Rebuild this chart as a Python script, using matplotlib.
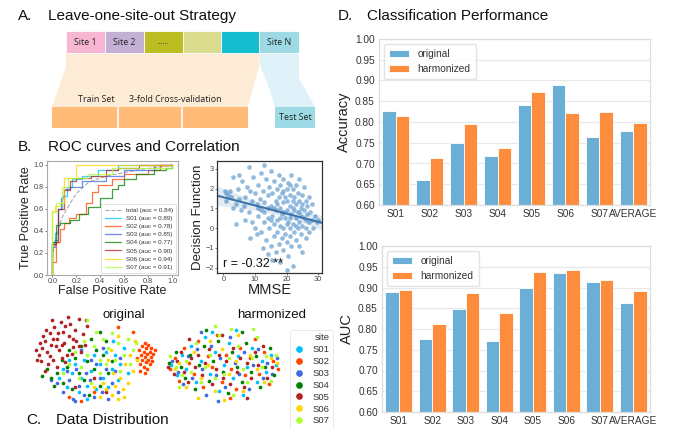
import numpy as np
import matplotlib
matplotlib.use("Agg")
import matplotlib.pyplot as plt
from matplotlib.patches import Rectangle, Polygon
from matplotlib.lines import Line2D

plt.rcParams['font.family'] = ['Liberation Sans', 'DejaVu Sans']

W, H = 683, 429

# ---------------- data ----------------
sites = ['S01', 'S02', 'S03', 'S04', 'S05', 'S06', 'S07']
site_colors = ['#00bfff', '#ff4500', '#4169e1', '#008000', '#b22222', '#ffd700', '#adff2f']

bar_categories = ['S01', 'S02', 'S03', 'S04', 'S05', 'S06', 'S07', 'AVERAGE']
acc_original = [0.827, 0.660, 0.749, 0.719, 0.840, 0.888, 0.764, 0.779]
acc_harmonized = [0.815, 0.714, 0.796, 0.737, 0.872, 0.821, 0.823, 0.797]
auc_original = [0.889, 0.777, 0.848, 0.770, 0.898, 0.936, 0.914, 0.862]
auc_harmonized = [0.894, 0.812, 0.887, 0.838, 0.938, 0.942, 0.917, 0.891]

roc_total_fpr = [0, 0.02, 0.05, 0.08, 0.12, 0.16, 0.2, 0.25, 0.3, 0.4, 0.5, 0.6, 0.75, 0.9, 1.0]
roc_total_tpr = [0.15, 0.3, 0.42, 0.52, 0.6, 0.67, 0.74, 0.79, 0.84, 0.88, 0.91, 0.93, 0.96, 0.98, 1.0]
roc_total_auc = 0.84

roc_fpr = {
    'S01': [0, 0, 0.02, 0.05, 0.08, 0.12, 0.16, 0.25, 0.38, 0.55, 1.0],
    'S02': [0, 0, 0.03, 0.06, 0.1, 0.14, 0.2, 0.28, 0.33, 0.38, 0.5, 0.6, 0.8, 0.9, 1.0],
    'S03': [0, 0, 0.02, 0.05, 0.07, 0.1, 0.15, 0.25, 0.45, 0.6, 0.85, 1.0],
    'S04': [0, 0, 0.03, 0.06, 0.15, 0.22, 0.3, 0.4, 0.5, 0.55, 0.6, 0.7, 0.85, 0.95, 1.0],
    'S05': [0, 0, 0.03, 0.05, 0.1, 0.15, 0.2, 0.32, 0.45, 0.55, 0.72, 1.0],
    'S06': [0, 0, 0.02, 0.06, 0.1, 0.2, 1.0],
    'S07': [0, 0, 0.03, 0.08, 0.13, 0.3, 0.5, 1.0],
}
roc_tpr = {
    'S01': [0, 0.3, 0.38, 0.6, 0.72, 0.8, 0.87, 0.9, 0.95, 1.0, 1.0],
    'S02': [0, 0.12, 0.3, 0.42, 0.47, 0.52, 0.55, 0.65, 0.75, 0.82, 0.87, 0.92, 0.95, 1.0, 1.0],
    'S03': [0, 0.25, 0.32, 0.6, 0.7, 0.78, 0.8, 0.85, 0.9, 0.95, 1.0, 1.0],
    'S04': [0, 0.3, 0.45, 0.47, 0.5, 0.55, 0.62, 0.7, 0.78, 0.82, 0.87, 0.92, 0.95, 0.97, 1.0],
    'S05': [0, 0.28, 0.3, 0.6, 0.77, 0.85, 0.88, 0.9, 0.95, 0.97, 1.0, 1.0],
    'S06': [0, 0.58, 0.63, 0.65, 0.88, 1.0, 1.0],
    'S07': [0, 0.57, 0.65, 0.8, 0.88, 0.92, 0.97, 1.0],
}
roc_auc = [0.89, 0.78, 0.85, 0.77, 0.90, 0.94, 0.91]

mmse_points = [
    (0.5, 1.9), (1, 1.8), (1.5, 1.7), (2, 1.9), (1, 1.4), (2.5, 1.6), (3, 2.6), (3, 1.0), (4, 1.2),
    (4.5, 2.0), (5, 2.7), (5, 1.5), (5.5, 0.9), (4, 0.2), (6, 2.4), (6.5, 1.1), (7, 1.6), (7, 0.4),
    (7.5, 2.1), (8, 3.1), (8, 0.8), (8.5, 1.9), (8.5, -0.5), (9, 1.4), (9, 0.3), (9.5, 2.6), (10, 1.8),
    (10, 0.0), (10.5, 1.2), (10.5, -0.3), (11, 2.2), (11, 0.6), (11.5, 1.5), (12, 2.8), (12, 0.9),
    (12, -0.2), (12.5, 1.9), (12.5, -1.0), (13, 3.2), (13, 0.3), (13, 1.3), (13.5, 2.5), (13.5, -0.6),
    (14, 1.7), (14, 0.5), (14, -1.3), (14.5, 2.1), (14.5, 0.0), (15, 1.1), (15, -0.9), (15, 2.9),
    (15.5, 0.6), (15.5, 1.8), (15.5, -1.6), (16, 2.4), (16, 0.2), (16, -0.4), (16.5, 1.4), (16.5, 0.9),
    (16.5, -1.2), (17, 2.0), (17, 0.4), (17, -0.2), (17.5, 1.6), (17.5, 2.7), (17.5, -0.8), (18, 1.0),
    (18, 0.1), (18, -1.7), (18, 2.2), (18.5, 0.7), (18.5, 1.8), (18.5, -0.5), (19, 1.3), (19, 2.5),
    (19, 0.0), (19, -1.1), (19.5, 0.5), (19.5, 1.6), (19.5, -0.3), (20, 2.0), (20, 0.9), (20, -0.7),
    (20, -2.1), (20, 1.4), (20.5, 0.3), (20.5, 2.3), (20.5, -1.4), (21, 1.1), (21, 0.0), (21, 1.7),
    (21, -0.4), (21.5, 0.7), (21.5, 2.7), (21.5, -0.9), (22, 1.4), (22, 0.2), (22, -1.9), (22, 2.0),
    (22.5, 0.9), (22.5, -0.2), (22.5, 1.6), (23, 0.5), (23, 1.2), (23, -0.6), (23, 2.2), (23.5, 0.0),
    (23.5, 0.8), (23.5, 1.8), (24, 1.4), (24, 0.3), (24, -0.9), (24, 2.5), (24.5, 0.6), (24.5, 1.0),
    (24.5, -0.3), (25, 1.7), (25, 0.1), (25, 1.2), (25, -1.2), (25.5, 0.5), (25.5, 2.1), (25.5, 0.9),
    (26, 0.0), (26, 1.4), (26, -0.5), (26.5, 0.7), (26.5, 1.1), (27, 0.3), (27, 1.6), (27, -0.2),
    (27.5, 0.8), (28, 0.4), (28, 1.2), (28.5, 0.0), (29, 0.6), (29.5, 0.3), (30, 0.4),
    (16, 1.0), (17, 1.2), (18, 0.5), (19, 0.8), (20, 0.2), (21, 0.5), (22, 1.0), (23, 0.1),
    (15, 0.4), (14, 1.0), (19, 1.9), (21, 2.2), (24, 0.8), (26, 0.4), (13, 0.8), (11, 1.0),
]
mmse_r_text = 'r = -0.32 **'

tsne_original = {
    'S05': [(5, 55), (8, 62), (10, 70), (12, 58), (14, 78), (15, 66), (17, 50), (18, 85), (20, 72), (22, 60),
            (23, 90), (25, 80), (26, 68), (28, 55), (30, 75), (31, 88), (33, 63), (35, 82), (36, 70), (38, 93),
            (40, 58), (41, 77), (13, 45), (7, 48), (20, 42), (27, 47), (45, 86), (43, 66), (10, 38), (50, 30),
            (35, 20), (60, 15), (3, 60), (16, 92), (29, 96), (24, 52), (9, 75), (33, 72), (19, 64), (44, 92),
            (6, 68), (11, 82), (21, 78), (27, 86), (32, 56), (38, 64), (14, 54), (24, 66), (4, 50), (17, 72)],
    'S04': [(12, 40), (15, 30), (20, 35), (25, 25), (28, 42), (32, 18), (35, 52), (38, 35), (40, 65), (42, 28),
            (45, 48), (48, 72), (50, 40), (52, 60), (55, 22), (58, 55), (60, 70), (62, 35), (18, 22), (30, 60),
            (46, 12), (65, 48), (8, 32), (24, 50), (55, 80)],
    'S01': [(22, 30), (25, 40), (28, 20), (32, 35), (35, 45), (38, 15), (40, 30), (42, 50), (45, 22), (48, 38),
            (50, 55), (52, 18), (55, 45), (58, 30), (60, 58), (62, 20), (65, 40), (68, 55), (70, 28), (72, 45),
            (75, 62), (30, 50), (45, 8), (78, 35), (66, 70)],
    'S03': [(20, 25), (25, 15), (30, 28), (33, 8), (36, 40), (38, 22), (42, 12), (44, 35), (47, 28), (50, 10),
            (52, 45), (55, 30), (57, 15), (60, 40), (62, 8), (65, 25), (68, 38), (70, 15), (28, 38), (48, 50),
            (58, 62), (35, 5), (72, 52), (40, 60), (15, 28)],
    'S07': [(30, 45), (35, 58), (40, 42), (42, 70), (45, 55), (48, 25), (50, 65), (52, 80), (55, 50), (58, 72),
            (60, 45), (62, 62), (65, 78), (68, 50), (70, 68), (72, 38), (75, 55), (78, 72), (80, 45), (82, 60),
            (25, 35), (38, 30), (55, 35), (85, 68), (45, 92)],
    'S06': [(55, 10), (58, 25), (60, 18), (62, 50), (65, 12), (68, 22), (70, 8), (72, 30), (74, 18), (76, 45),
            (78, 25), (80, 55), (82, 38), (84, 70), (66, 35), (70, 75), (50, 20), (75, 10), (64, 60), (86, 50)],
    'S02': [(86, 52), (87, 60), (88, 45), (89, 55), (90, 65), (90, 50), (91, 42), (91, 58), (92, 68), (92, 53),
            (93, 47), (93, 62), (94, 56), (94, 40), (95, 50), (95, 66), (96, 58), (96, 45), (97, 53), (97, 62),
            (98, 48), (99, 56), (88, 38), (92, 35), (100, 60), (40, 5), (50, 15), (30, 10), (70, 85), (82, 80)],
}

tsne_harmonized = {
    'S01': [(5, 50), (10, 38), (14, 62), (18, 45), (22, 72), (26, 30), (30, 55), (34, 82), (38, 40), (42, 65),
            (46, 20), (50, 50), (54, 75), (58, 35), (62, 60), (66, 15), (70, 48), (74, 70), (78, 30), (82, 55),
            (86, 42), (90, 62), (94, 50), (40, 88), (60, 90)],
    'S02': [(4, 45), (8, 58), (12, 32), (16, 70), (20, 52), (24, 40), (28, 78), (32, 25), (36, 60), (40, 48),
            (44, 85), (48, 30), (52, 62), (56, 45), (60, 22), (64, 70), (68, 38), (72, 58), (76, 80), (80, 40),
            (84, 65), (88, 28), (92, 55), (96, 45), (55, 12)],
    'S03': [(6, 55), (11, 42), (15, 28), (19, 60), (23, 35), (27, 68), (31, 45), (35, 15), (39, 72), (43, 38),
            (47, 58), (51, 25), (55, 82), (59, 52), (63, 40), (67, 65), (71, 22), (75, 50), (79, 68), (83, 35),
            (87, 52), (91, 40), (95, 58), (45, 8), (30, 88)],
    'S04': [(3, 52), (9, 65), (13, 48), (17, 35), (21, 62), (25, 22), (29, 50), (33, 72), (37, 32), (41, 55),
            (45, 78), (49, 42), (53, 18), (57, 65), (61, 48), (65, 30), (69, 75), (73, 42), (77, 60), (81, 25),
            (85, 48), (89, 70), (93, 38), (35, 90), (65, 88)],
    'S05': [(2, 48), (7, 40), (10, 55), (13, 65), (16, 42), (19, 30), (22, 58), (25, 48), (28, 62), (31, 38),
            (34, 52), (37, 68), (40, 28), (43, 45), (46, 62), (49, 35), (52, 55), (55, 28), (58, 70), (61, 42),
            (64, 58), (67, 25), (70, 52), (73, 35), (76, 65), (79, 50), (83, 72), (87, 35), (91, 48), (20, 80),
            (48, 85), (70, 12)],
    'S06': [(8, 45), (12, 52), (18, 25), (24, 65), (30, 35), (36, 50), (42, 20), (48, 68), (54, 40), (60, 55),
            (66, 20), (72, 62), (78, 45), (84, 30), (90, 58), (50, 10), (28, 12), (62, 85), (38, 78), (95, 52)],
    'S07': [(4, 60), (9, 48), (14, 38), (18, 55), (22, 42), (26, 75), (30, 30), (34, 48), (38, 62), (42, 35),
            (46, 85), (50, 40), (54, 58), (58, 15), (62, 72), (66, 45), (70, 30), (74, 58), (78, 82), (82, 48),
            (86, 60), (90, 32), (94, 62), (12, 25), (75, 92), (42, 95), (56, 92)],
}


# ---------------- helpers ----------------
def fx(px):
    return px / W


def fy(py):
    return 1 - py / H


def axrect(x0, y0, x1, y1):
    return [fx(x0), fy(y1), (x1 - x0) / W, (y1 - y0) / H]


fig = plt.figure(figsize=(W / 100, H / 100), dpi=100)

# ---------------- Panel A (diagram) ----------------
ov = fig.add_axes([0, 0, 1, 1])
ov.set_xlim(0, W)
ov.set_ylim(H, 0)
ov.axis('off')

ov.add_patch(Polygon([(66, 53), (259, 53), (259, 67), (248, 107), (52, 107), (66, 67)],
                     closed=True, facecolor='#fdebd6', edgecolor='none'))
ov.add_patch(Polygon([(259, 53), (299, 53), (299, 78), (315, 107), (275, 107), (268, 85), (260, 66)],
                     closed=True, facecolor='#e0f2f9', edgecolor='none'))
site_boxes = [(66, 105, '#f7b6d2', 'Site 1'), (105, 144, '#c5b0d5', 'Site 2'),
              (144, 183, '#bcbd22', '......'), (183, 221, '#dbdb8d', ''),
              (221, 259, '#17becf', ''), (259, 299, '#9edae5', 'Site N')]
for x0, x1, c, lab in site_boxes:
    ov.add_patch(Rectangle((x0, 31), x1 - x0, 22, facecolor=c, edgecolor='white', lw=0.6))
    if lab:
        ov.text((x0 + x1) / 2, 42.5, lab, ha='center', va='center',
                fontsize=6.4 if lab != '......' else 5, family='Open Sans', color='#222222')
ov.add_patch(Rectangle((52, 107), 196, 21, facecolor='#ffbb78', edgecolor='none'))
for xl in (118, 182):
    ov.plot([xl, xl], [108, 127], color='white', lw=1.2)
ov.add_patch(Rectangle((275, 107), 40, 21, facecolor='#9edae5', edgecolor='none'))
ov.text(96, 100, 'Train Set', ha='center', va='center', fontsize=6.4, family='Open Sans', color='#222222')
ov.text(175, 100, '3-fold Cross-validation', ha='center', va='center', fontsize=6.4,
        family='Open Sans', color='#222222')
ov.text(295, 118, 'Test Set', ha='center', va='center', fontsize=6.4, family='Open Sans', color='#222222')

# panel titles
title_fs = 11
fig.text(fx(18), fy(16), 'A.', fontsize=title_fs, va='center', ha='left', color='#111111')
fig.text(fx(48), fy(16), 'Leave-one-site-out Strategy', fontsize=title_fs, va='center', ha='left', color='#111111')
fig.text(fx(18), fy(147), 'B.', fontsize=title_fs, va='center', ha='left', color='#111111')
fig.text(fx(48), fy(147), 'ROC curves and Correlation', fontsize=title_fs, va='center', ha='left', color='#111111')
fig.text(fx(26), fy(420), 'C.', fontsize=title_fs, va='center', ha='left', color='#111111')
fig.text(fx(56), fy(420), 'Data Distribution', fontsize=title_fs, va='center', ha='left', color='#111111')
fig.text(fx(338), fy(16), 'D.', fontsize=title_fs, va='center', ha='left', color='#111111')
fig.text(fx(367), fy(16), 'Classification Performance', fontsize=title_fs, va='center', ha='left', color='#111111')

# ---------------- Panel B: ROC ----------------
ax_roc = fig.add_axes(axrect(47, 161, 178, 275))
ax_roc.plot(roc_total_fpr, roc_total_tpr, color='#aaaaaa', lw=0.8, ls='--',
            label='total (auc = %.2f)' % roc_total_auc)
for s, c, a in zip(sites, site_colors, roc_auc):
    ax_roc.plot(roc_fpr[s], roc_tpr[s], drawstyle='steps-post', color=c, alpha=0.75, lw=0.9,
                label='%s (auc = %.2f)' % (s, a))
ax_roc.set_xlim(-0.045, 1.05)
ax_roc.set_ylim(0, 1.035)
ax_roc.set_xticks([0, 0.2, 0.4, 0.6, 0.8, 1.0])
ax_roc.set_yticks([0, 0.2, 0.4, 0.6, 0.8, 1.0])
ax_roc.tick_params(labelsize=5.2, length=1.5, width=0.5, pad=1, colors='#444444')
for sp in ax_roc.spines.values():
    sp.set_color('#aaaaaa')
    sp.set_linewidth(0.8)
ax_roc.set_xlabel('False Positive Rate', fontsize=9, labelpad=0, color='#222222')
ax_roc.set_ylabel('True Positive Rate', fontsize=9, labelpad=1, color='#222222')
leg = ax_roc.legend(loc='lower right', fontsize=4.5, handlelength=2.6, labelspacing=0.45,
                    borderpad=0.5, frameon=True, borderaxespad=0.3)
leg.get_frame().set_edgecolor('#cccccc')
leg.get_frame().set_linewidth(0.5)
for t in leg.get_texts():
    t.set_color('#333333')

# ---------------- Panel B: MMSE scatter ----------------
ax_sc = fig.add_axes(axrect(217, 161, 322, 273))
mx = np.array([p[0] for p in mmse_points], dtype=float)
my = np.array([p[1] for p in mmse_points], dtype=float)
ax_sc.scatter(mx, my, s=11, color='#7eaed8', alpha=0.85, linewidths=0)
slope, intercept = np.polyfit(mx, my, 1)
xl = np.linspace(-2, 31.2, 100)
yl = intercept + slope * xl
n = len(mx)
resid = my - (intercept + slope * mx)
s_err = np.sqrt(np.sum(resid ** 2) / (n - 2))
se = s_err * np.sqrt(1 / n + (xl - mx.mean()) ** 2 / np.sum((mx - mx.mean()) ** 2)) * 1.97
ax_sc.fill_between(xl, yl - se, yl + se, color='#3a72ab', alpha=0.15, linewidth=0)
ax_sc.plot(xl, yl, color='#3a72ab', lw=1.5)
ax_sc.set_xlim(-2, 31.2)
ax_sc.set_ylim(-2.27, 3.4)
ax_sc.set_xticks([0, 10, 20, 30])
ax_sc.set_yticks([-2, -1, 0, 1, 2, 3])
ax_sc.set_yticklabels(['\u22122', '\u22121', '0', '1', '2', '3'])
ax_sc.tick_params(labelsize=5.3, length=1.5, width=0.5, pad=1, colors='#444444')
for sp in ax_sc.spines.values():
    sp.set_color('#333333')
    sp.set_linewidth(0.9)
ax_sc.set_xlabel('MMSE', fontsize=10.5, labelpad=0, color='#222222')
ax_sc.set_ylabel('Decision Function', fontsize=9.5, labelpad=1, color='#222222')
ax_sc.text(0.055, 0.05, mmse_r_text, transform=ax_sc.transAxes, fontsize=9, va='baseline',
           ha='left', color='#111111')

# ---------------- Panel C: t-SNE ----------------
ax_o = fig.add_axes(axrect(30, 311, 157, 408))
ax_h = fig.add_axes(axrect(163, 320, 285, 410))
for ax, dset in ((ax_o, tsne_original), (ax_h, tsne_harmonized)):
    for s, c in zip(sites, site_colors):
        pts = dset[s]
        ax.scatter([p[0] for p in pts], [p[1] for p in pts], s=7, color=c, linewidths=0)
    ax.set_xlim(-2, 102)
    ax.set_ylim(-2, 102)
    ax.axis('off')
fig.text(fx(124), fy(315), 'original', fontsize=9.5, ha='center', va='center', color='#111111')
fig.text(fx(272), fy(315), 'harmonized', fontsize=9.5, ha='center', va='center', color='#111111')
handles = [Line2D([], [], marker='o', ls='none', color=c, markersize=3.8) for c in site_colors]
sleg = fig.legend(handles, sites, title='site', loc='upper left',
                  bbox_to_anchor=(fx(285), fy(325)), fontsize=6.8, title_fontsize=6.8,
                  labelspacing=0.3, handletextpad=0.8, borderpad=0.4, handlelength=1.2,
                  frameon=True)
sleg.get_frame().set_edgecolor('#dddddd')
sleg.get_frame().set_linewidth(0.6)
sleg._legend_box.align = 'right'
for t in sleg.get_texts():
    t.set_color('#333333')
sleg.get_title().set_color('#333333')


# ---------------- Panel D: bars ----------------
def bar_panel(rect, orig, harm, ylabel):
    ax = fig.add_axes(rect)
    x = np.arange(len(bar_categories))
    ax.bar(x - 0.2, orig, width=0.4, color='#6baed6', edgecolor='white', linewidth=0.6,
           label='original', zorder=2)
    ax.bar(x + 0.2, harm, width=0.4, color='#fd8d3c', edgecolor='white', linewidth=0.6,
           label='harmonized', zorder=2)
    ax.set_xlim(-0.5, len(bar_categories) - 0.5)
    ax.set_ylim(0.6, 1.0)
    ax.set_yticks(np.arange(0.6, 1.001, 0.05))
    ax.set_yticklabels(['%.2f' % v for v in np.arange(0.6, 1.001, 0.05)])
    ax.set_xticks(x)
    ax.set_xticklabels(bar_categories)
    ax.grid(axis='y', color='#e8e8e8', lw=0.9, zorder=0)
    ax.set_axisbelow(True)
    for sp in ax.spines.values():
        sp.set_color('#dddddd')
        sp.set_linewidth(0.9)
    ax.tick_params(length=0, labelsize=7.3, pad=3, colors='#333333')
    ax.set_ylabel(ylabel, fontsize=10.5, color='#222222', labelpad=3)
    lg = ax.legend(loc='upper left', fontsize=7.3, frameon=True, handlelength=2.0,
                   handleheight=0.7, borderpad=0.5, labelspacing=0.5, borderaxespad=0.5)
    lg.get_frame().set_edgecolor('#dddddd')
    for t in lg.get_texts():
        t.set_color('#333333')
    return ax


bar_panel(axrect(379, 39, 650, 205), acc_original, acc_harmonized, 'Accuracy')
bar_panel(axrect(382, 246, 650, 412), auc_original, auc_harmonized, 'AUC')

fig.savefig('out.png', dpi=100)
